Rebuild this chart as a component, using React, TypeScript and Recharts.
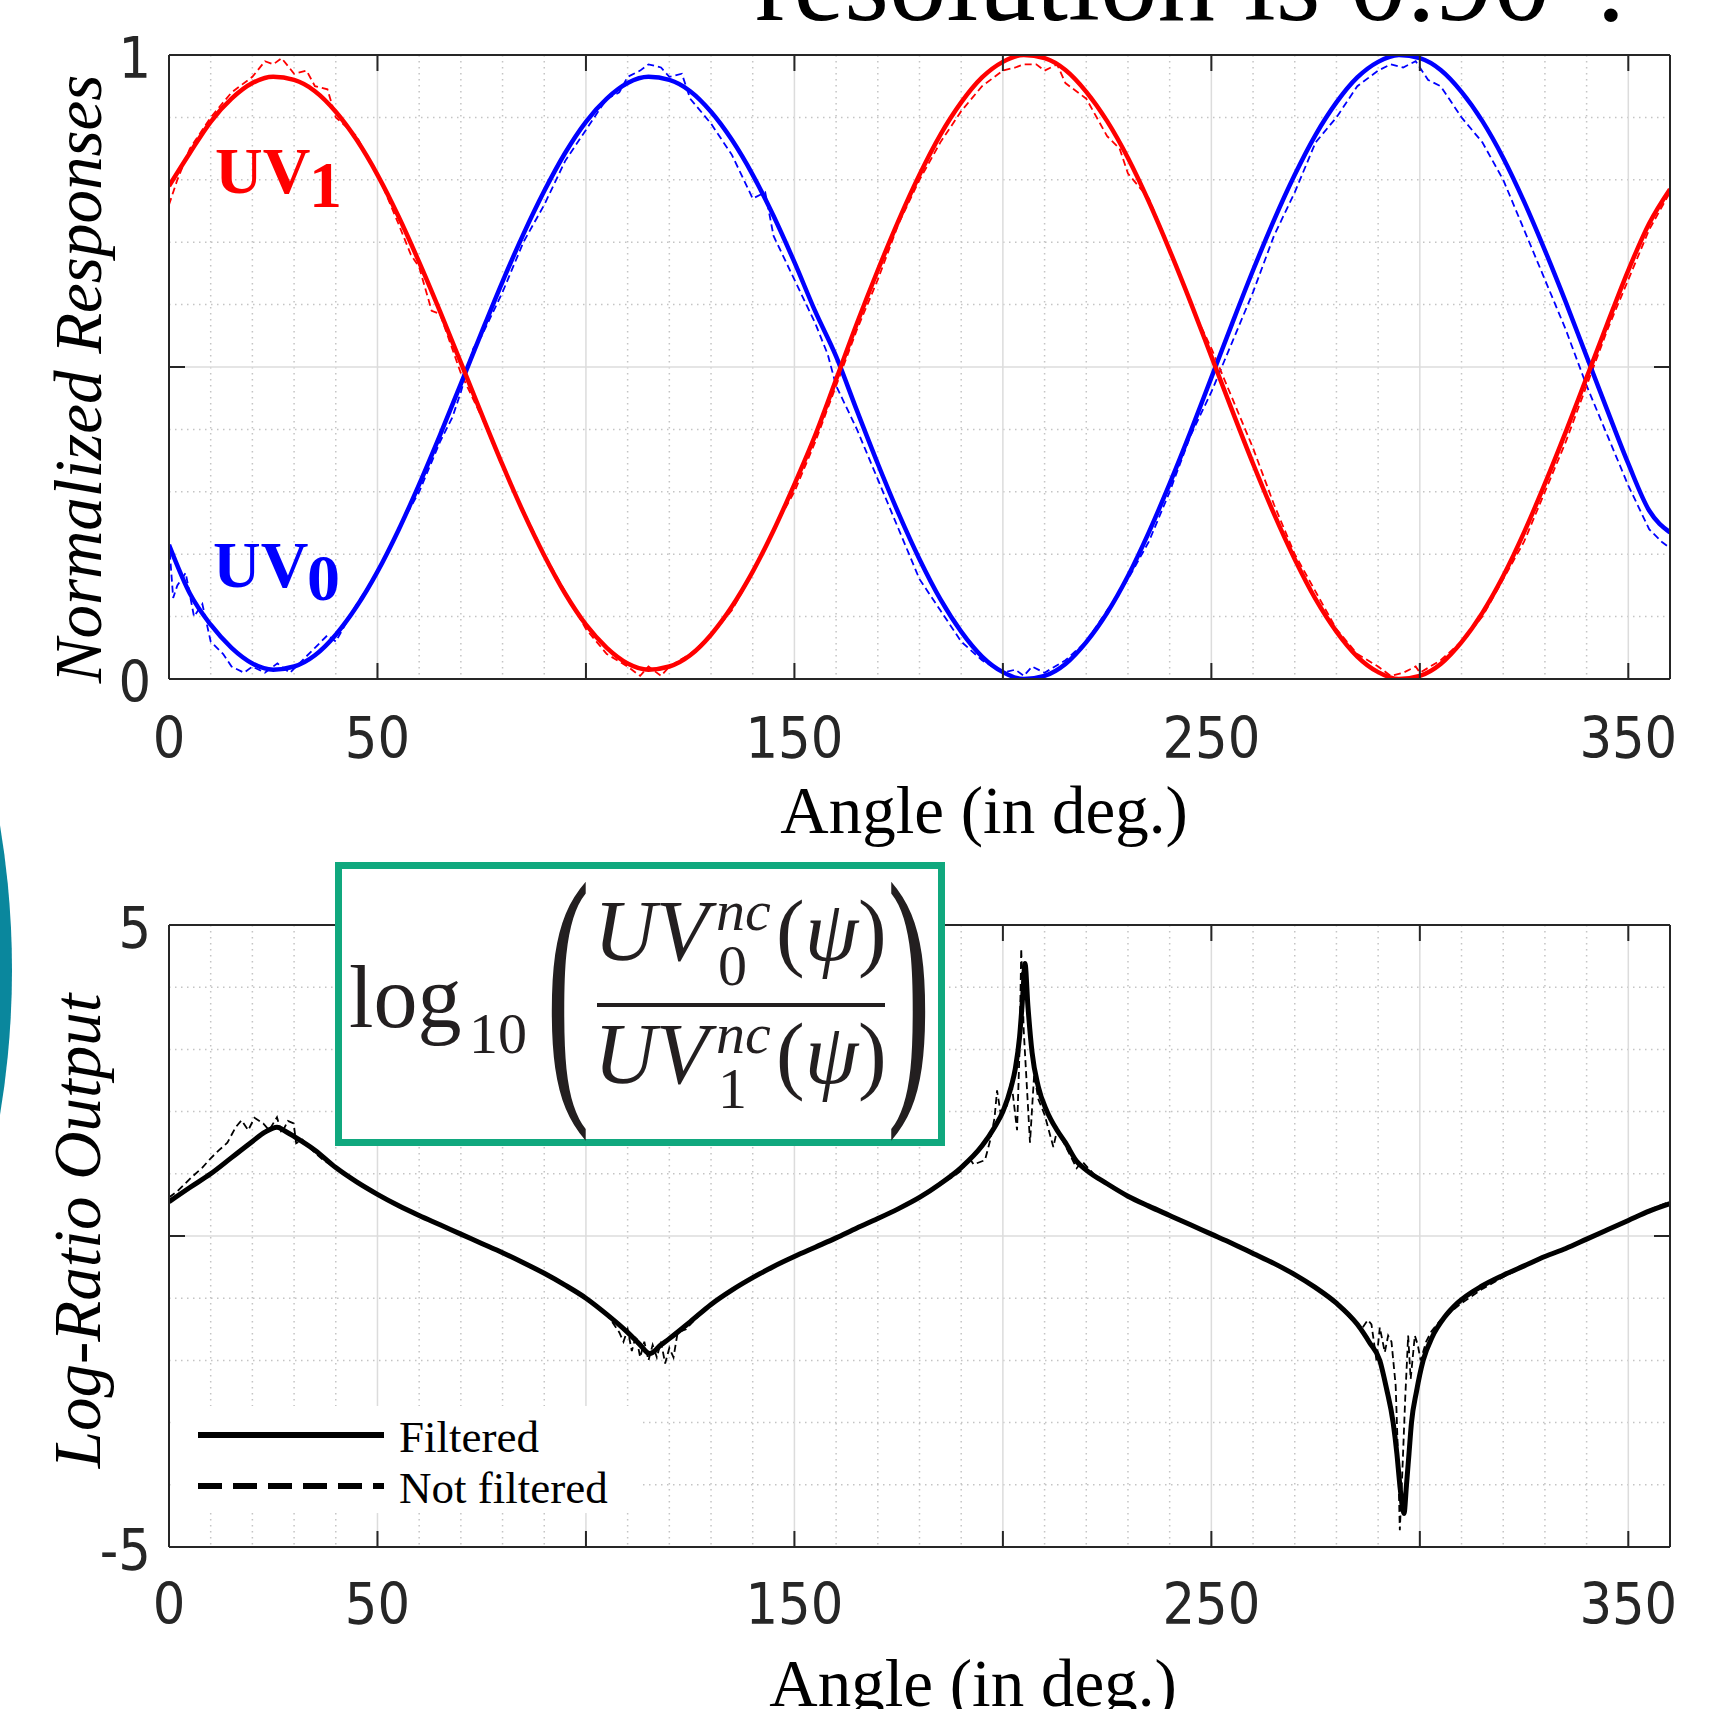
import { LineChart, Line, XAxis, YAxis, CartesianGrid } from "recharts";

const serif = "'Liberation Serif', 'Times New Roman', serif";
const sans = "'DejaVu Sans Condensed', 'DejaVu Sans', sans-serif";
const axisColor = "#262626";

// x axis (angle in degrees)
const majorX = [0, 50, 100, 150, 200, 250, 300, 350];
const innerTicksX = [50, 100, 150, 200, 250, 300, 350];
const labeledX = [0, 50, 150, 250, 350];
const minorX = [10, 20, 30, 40, 60, 70, 80, 90, 110, 120, 130, 140, 160, 170, 180, 190, 210, 220, 230, 240, 260, 270, 280, 290, 310, 320, 330, 340];

// top panel y axis
const topTicks = [0, 0.5, 1];
const topLabeled = [0, 1];
const topMinorY = [0.1, 0.2, 0.3, 0.4, 0.6, 0.7, 0.8, 0.9];

// bottom panel y axis
const bottomTicks = [-5, 0, 5];
const bottomLabeled = [-5, 5];
const bottomMinorY = [-4, -3, -2, -1, 1, 2, 3, 4];

// filtered responses, every 5 degrees
const angles = [0, 5, 10, 15, 20, 25, 30, 35, 40, 45, 50, 55, 60, 65, 70, 75, 80, 85, 90, 95, 100, 105, 110, 115, 120, 125, 130, 135, 140, 145, 150, 155, 160, 165, 170, 175, 180, 185, 190, 195, 200, 205, 210, 215, 220, 225, 230, 235, 240, 245, 250, 255, 260, 265, 270, 275, 280, 285, 290, 295, 300, 305, 310, 315, 320, 325, 330, 335, 340, 345, 350, 355, 360];
const uv1 = [0.79, 0.843, 0.893, 0.93, 0.955, 0.965, 0.96, 0.942, 0.909, 0.864, 0.808, 0.742, 0.668, 0.589, 0.507, 0.424, 0.343, 0.267, 0.198, 0.137, 0.087, 0.05, 0.025, 0.015, 0.02, 0.038, 0.071, 0.116, 0.172, 0.238, 0.312, 0.391, 0.48, 0.57, 0.655, 0.735, 0.808, 0.872, 0.924, 0.964, 0.989, 1.0, 0.995, 0.976, 0.941, 0.894, 0.835, 0.765, 0.687, 0.604, 0.517, 0.43, 0.345, 0.265, 0.192, 0.128, 0.076, 0.036, 0.011, 0.0, 0.005, 0.024, 0.059, 0.106, 0.165, 0.235, 0.313, 0.396, 0.483, 0.57, 0.655, 0.73, 0.785];
const uv0 = [0.215, 0.137, 0.087, 0.05, 0.025, 0.015, 0.02, 0.038, 0.071, 0.116, 0.172, 0.238, 0.312, 0.391, 0.473, 0.556, 0.637, 0.713, 0.782, 0.843, 0.893, 0.93, 0.955, 0.965, 0.96, 0.942, 0.909, 0.864, 0.808, 0.742, 0.668, 0.589, 0.517, 0.43, 0.345, 0.265, 0.192, 0.128, 0.076, 0.036, 0.011, 0.0, 0.005, 0.024, 0.059, 0.106, 0.165, 0.235, 0.313, 0.396, 0.483, 0.57, 0.655, 0.735, 0.808, 0.872, 0.924, 0.964, 0.989, 1.0, 0.995, 0.976, 0.941, 0.894, 0.835, 0.765, 0.687, 0.604, 0.517, 0.43, 0.345, 0.27, 0.235];

// raw (not filtered) responses, [angle, value]
const uv1Raw = [[0, 0.76], [2, 0.8], [5, 0.85], [10, 0.9], [15, 0.94], [20, 0.965], [23, 0.99], [25, 0.985], [27, 0.995], [30, 0.97], [33, 0.975], [35, 0.95], [38, 0.945], [40, 0.9], [45, 0.87], [48, 0.83], [50, 0.81], [55, 0.73], [58, 0.68], [60, 0.66], [63, 0.59], [65, 0.585], [70, 0.49], [75, 0.42], [80, 0.34], [85, 0.27], [90, 0.2], [95, 0.14], [100, 0.08], [105, 0.04], [110, 0.02], [113, 0.005], [115, 0.02], [118, 0.005], [120, 0.02], [125, 0.04], [130, 0.07], [135, 0.11], [140, 0.17], [145, 0.24], [150, 0.3], [155, 0.38], [160, 0.47], [165, 0.56], [170, 0.64], [175, 0.73], [180, 0.8], [185, 0.86], [190, 0.91], [195, 0.95], [200, 0.975], [203, 0.98], [205, 0.985], [208, 0.985], [210, 0.975], [213, 0.985], [215, 0.955], [220, 0.93], [225, 0.87], [228, 0.85], [230, 0.81], [235, 0.77], [240, 0.69], [245, 0.6], [250, 0.53], [255, 0.45], [260, 0.37], [265, 0.28], [270, 0.2], [275, 0.14], [280, 0.08], [285, 0.04], [290, 0.02], [293, 0.005], [296, 0.01], [299, 0.02], [300, 0.01], [305, 0.03], [310, 0.06], [315, 0.1], [320, 0.16], [325, 0.22], [330, 0.3], [335, 0.38], [340, 0.47], [345, 0.56], [350, 0.64], [355, 0.72], [360, 0.78]];
const uv0Raw = [[0, 0.22], [1, 0.13], [2, 0.15], [4, 0.17], [6, 0.1], [8, 0.12], [10, 0.06], [13, 0.04], [15, 0.02], [18, 0.01], [20, 0.02], [23, 0.01], [26, 0.025], [29, 0.01], [32, 0.03], [35, 0.05], [38, 0.07], [40, 0.06], [45, 0.12], [50, 0.17], [55, 0.24], [60, 0.3], [65, 0.38], [68, 0.42], [70, 0.46], [73, 0.53], [75, 0.55], [80, 0.62], [85, 0.7], [90, 0.76], [95, 0.83], [100, 0.88], [105, 0.93], [108, 0.94], [110, 0.965], [113, 0.975], [115, 0.985], [118, 0.98], [120, 0.965], [123, 0.97], [125, 0.93], [130, 0.89], [135, 0.84], [140, 0.77], [143, 0.78], [145, 0.71], [150, 0.64], [155, 0.57], [158, 0.52], [160, 0.47], [165, 0.4], [170, 0.32], [175, 0.24], [180, 0.16], [185, 0.11], [190, 0.06], [195, 0.03], [200, 0.01], [203, 0.015], [205, 0.005], [207, 0.02], [210, 0.01], [215, 0.03], [220, 0.06], [225, 0.11], [230, 0.16], [235, 0.22], [240, 0.3], [245, 0.39], [250, 0.46], [255, 0.54], [260, 0.62], [265, 0.71], [270, 0.78], [275, 0.86], [280, 0.9], [285, 0.95], [290, 0.975], [293, 0.985], [296, 0.98], [299, 0.99], [302, 0.96], [305, 0.95], [310, 0.9], [315, 0.86], [320, 0.8], [325, 0.72], [330, 0.64], [335, 0.56], [340, 0.47], [345, 0.39], [350, 0.31], [355, 0.24], [358, 0.22], [360, 0.21]];

// log-ratio output, [angle, value]
const ratioFiltered = [[0, 0.55], [5, 0.78], [10, 1.0], [15, 1.26], [20, 1.52], [23, 1.67], [25.9, 1.75], [28, 1.68], [30, 1.6], [35, 1.38], [40, 1.1], [45, 0.87], [50, 0.67], [55, 0.49], [60, 0.33], [65, 0.18], [70, 0.03], [75, -0.12], [80, -0.27], [85, -0.43], [90, -0.6], [95, -0.79], [100, -1.0], [105, -1.26], [110, -1.55], [113, -1.75], [115.3, -1.89], [118, -1.75], [120, -1.65], [125, -1.38], [130, -1.1], [135, -0.87], [140, -0.67], [145, -0.49], [150, -0.33], [155, -0.18], [160, -0.03], [165, 0.13], [170, 0.28], [175, 0.44], [180, 0.62], [185, 0.84], [190, 1.1], [195, 1.45], [198, 1.75], [200, 2.0], [202, 2.4], [203, 2.7], [204, 3.2], [204.8, 3.9], [205.3, 4.38], [206, 3.7], [207, 2.95], [208.5, 2.4], [210.6, 2.0], [213, 1.7], [215, 1.5], [217.7, 1.2], [220, 1.06], [225, 0.84], [230, 0.64], [235, 0.48], [240, 0.33], [245, 0.18], [250, 0.03], [255, -0.12], [260, -0.28], [265, -0.44], [270, -0.62], [275, -0.83], [280, -1.08], [285, -1.42], [288, -1.72], [290.4, -2.0], [292, -2.45], [293.6, -3.0], [294.5, -3.5], [295.2, -4.0], [296.2, -4.46], [296.8, -4.0], [297.4, -3.5], [298, -3.0], [299.2, -2.5], [300.8, -2.0], [303, -1.62], [306, -1.3], [309, -1.08], [315, -0.8], [320, -0.63], [325, -0.48], [330, -0.33], [335, -0.2], [340, -0.05], [345, 0.1], [350, 0.25], [355, 0.4], [360, 0.52]];
const ratioRaw = [[0, 0.62], [2, 0.72], [4, 0.85], [5.5, 0.95], [8, 1.1], [10, 1.25], [12, 1.38], [14, 1.5], [16, 1.75], [17.4, 1.86], [19, 1.7], [20.5, 1.9], [22.6, 1.81], [24, 1.7], [25.9, 1.91], [27, 1.65], [28.5, 1.85], [29.9, 1.81], [30.5, 1.49], [32, 1.55], [34, 1.4], [37, 1.22], [40, 1.1], [45, 0.87], [50, 0.67], [55, 0.5], [60, 0.33], [65, 0.18], [70, 0.03], [75, -0.12], [80, -0.27], [85, -0.43], [90, -0.6], [95, -0.79], [100, -1.0], [104, -1.2], [106, -1.35], [108, -1.55], [109, -1.7], [110, -1.5], [111, -1.85], [112, -1.6], [113, -1.95], [114, -1.7], [115, -2.0], [116, -1.75], [117, -1.95], [118, -1.7], [119, -2.05], [120, -1.8], [121, -1.95], [122, -1.55], [124, -1.5], [126, -1.35], [130, -1.1], [135, -0.87], [140, -0.67], [145, -0.49], [150, -0.33], [155, -0.18], [160, -0.03], [165, 0.12], [170, 0.28], [175, 0.44], [180, 0.62], [185, 0.84], [188, 0.95], [190, 1.05], [192, 1.25], [193, 1.15], [195.7, 1.22], [197, 1.55], [198, 1.9], [198.6, 2.34], [199.5, 1.95], [201, 2.1], [202, 2.5], [203.4, 1.7], [204, 3.0], [204.4, 4.62], [205, 3.3], [206.5, 1.5], [207.5, 2.6], [208.5, 2.2], [210, 1.95], [212.1, 1.43], [213, 1.7], [215, 1.45], [217.7, 1.09], [219, 1.2], [222, 0.98], [225, 0.85], [230, 0.64], [235, 0.48], [240, 0.33], [245, 0.18], [250, 0.03], [255, -0.12], [260, -0.28], [265, -0.44], [270, -0.62], [275, -0.83], [280, -1.08], [283, -1.3], [286, -1.5], [287.5, -1.35], [288.4, -1.42], [289.6, -2.0], [290.4, -1.47], [291.6, -1.87], [292.4, -1.6], [293.2, -1.7], [294.2, -2.4], [294.8, -3.6], [295.2, -4.73], [295.8, -3.8], [296.5, -2.6], [297.2, -1.6], [297.8, -2.3], [298.8, -1.6], [299.5, -1.75], [300.2, -2.0], [301.5, -1.7], [302.8, -1.53], [305, -1.35], [310, -1.08], [315, -0.85], [320, -0.66], [325, -0.49], [330, -0.33], [335, -0.19], [340, -0.05], [345, 0.1], [350, 0.26], [355, 0.42], [358, 0.5], [360, 0.55]];

const fromArrays = (xs: number[], ys: number[]) => xs.map((x, i) => ({ x, y: ys[i] }));
const fromPairs = (pairs: number[][]) => pairs.map(([x, y]) => ({ x, y }));

const tickStyle = { fill: axisColor, fontSize: 57, fontFamily: sans, fontStretch: "condensed" };
const boxLine = { stroke: axisColor, strokeWidth: 2 };
const noLabel = () => "";

// plot box: x 169..1670, top at 55 inside each panel
function Panel({ height, bottom, yDomain, yTicks, yLabeled, yMinor, xMargin, children }: any) {
  const mid = [yTicks[1]];
  return (
    <LineChart width={1717} height={height} margin={{ top: 55, right: 47, bottom: bottom - 60, left: 109 }}>
      {/* minor dotted grid, then major solid grid */}
      <CartesianGrid verticalValues={minorX} horizontalValues={yMinor} stroke="#c4c4c4" strokeWidth={1.5} strokeDasharray="1.5 4.5" />
      <CartesianGrid stroke="#dcdcdc" strokeWidth={1.5} />

      <XAxis dataKey="x" type="number" domain={[0, 360]} allowDataOverflow ticks={majorX} height={60}
        tickLine={false} tickSize={0} tickMargin={xMargin} axisLine={boxLine} tick={tickStyle}
        tickFormatter={(v: number) => (labeledX.includes(v) ? String(v) : "")} />
      {/* inward ticks (MATLAB box style) */}
      <XAxis xAxisId="bIn" dataKey="x" type="number" domain={[0, 360]} allowDataOverflow ticks={innerTicksX}
        orientation="bottom" mirror height={1} tickFormatter={noLabel} tickSize={16} axisLine={false} tickLine={boxLine} />
      <XAxis xAxisId="top" dataKey="x" type="number" domain={[0, 360]} allowDataOverflow ticks={innerTicksX}
        orientation="top" mirror height={1} tickFormatter={noLabel} tickSize={16} axisLine={boxLine} tickLine={boxLine} />

      <YAxis type="number" domain={yDomain} allowDataOverflow ticks={yTicks} width={60}
        tickLine={false} tickSize={0} tickMargin={18} axisLine={boxLine} tick={{ ...tickStyle, dy: 3 }}
        tickFormatter={(v: number) => (yLabeled.includes(v) ? String(v) : "")} />
      <YAxis yAxisId="lIn" type="number" domain={yDomain} allowDataOverflow ticks={mid}
        orientation="left" mirror width={1} tickFormatter={noLabel} tickSize={16} axisLine={false} tickLine={boxLine} />
      <YAxis yAxisId="right" type="number" domain={yDomain} allowDataOverflow ticks={mid}
        orientation="right" mirror width={1} tickFormatter={noLabel} tickSize={16} axisLine={boxLine} tickLine={boxLine} />

      {children}
    </LineChart>
  );
}

function Overlay() {
  return (
    <svg width={1717} height={1709} style={{ position: "absolute", left: 0, top: 0 }}>
      {/* slide decoration + clipped title */}
      <circle cx={-868} cy={970} r={880} fill="#0a879d" />
      <text x={755} y={20} fontFamily={serif} fontSize={115} fill="#000">resolution is 0.90°.</text>

      {/* axis titles */}
      <text x={984} y={833} textAnchor="middle" fontFamily={serif} fontSize={67}>Angle (in deg.)</text>
      <text x={973} y={1706} textAnchor="middle" fontFamily={serif} fontSize={67}>Angle (in deg.)</text>
      <text transform="translate(101,379) rotate(-90)" textAnchor="middle" fontFamily={serif} fontStyle="italic" fontSize={67}>Normalized Responses</text>
      <text transform="translate(100,1231) rotate(-90)" textAnchor="middle" fontFamily={serif} fontStyle="italic" fontSize={67}>Log-Ratio Output</text>

      {/* series labels */}
      <g fontFamily={serif} fontWeight="bold" fontSize={66}>
        <text x={215} y={193} fill="#ff0000">UV</text>
        <text x={309} y={207} fill="#ff0000">1</text>
        <text x={213} y={587} fill="#0000ff">UV</text>
        <text x={307} y={600} fill="#0000ff">0</text>
      </g>

      {/* formula box */}
      <rect x={338.5} y={865.5} width={603} height={277} fill="#fff" stroke="#10a87e" strokeWidth={7} />
      <g fontFamily={serif} fill="#231f20">
        <text x={349} y={1027} fontSize={88}>log</text>
        <text x={469} y={1053} fontSize={58}>10</text>
        <text transform="translate(546,1080) scale(1.1,2.38)" fontSize={120}>(</text>
        <text x={594} y={960} fontSize={86} fontStyle="italic">UV</text>
        <text x={716} y={930} fontSize={58} fontStyle="italic">nc</text>
        <text x={718} y={985} fontSize={58}>0</text>
        <text x={776} y={960} fontSize={86}>(<tspan fontStyle="italic">ψ</tspan>)</text>
        <line x1={597} x2={885} y1={1005} y2={1005} stroke="#231f20" strokeWidth={4} />
        <text x={594} y={1083} fontSize={86} fontStyle="italic">UV</text>
        <text x={716} y={1053} fontSize={58} fontStyle="italic">nc</text>
        <text x={718} y={1108} fontSize={58}>1</text>
        <text x={776} y={1083} fontSize={86}>(<tspan fontStyle="italic">ψ</tspan>)</text>
        <text transform="translate(887,1080) scale(1.1,2.38)" fontSize={120}>)</text>
      </g>

      {/* legend */}
      <rect x={175} y={1406} width={467} height={107} fill="#fff" />
      <line x1={198} x2={384} y1={1435} y2={1435} stroke="#000" strokeWidth={6} />
      <line x1={198} x2={384} y1={1486} y2={1486} stroke="#000" strokeWidth={6} strokeDasharray="24 11" />
      <text x={399} y={1452} fontFamily={serif} fontSize={45}>Filtered</text>
      <text x={399} y={1503} fontFamily={serif} fontSize={45}>Not filtered</text>
    </svg>
  );
}

export default function App() {
  const line = { dataKey: "y", dot: false, activeDot: false, isAnimationActive: false } as any;
  return (
    <div style={{ position: "absolute", left: 0, top: 0, width: 1717, height: 1709, background: "#fff", overflow: "hidden" }}>
      <div style={{ position: "absolute", left: 0, top: 0 }}>
        <Panel height={870} bottom={191} yDomain={[0, 1]} yTicks={topTicks} yLabeled={topLabeled} yMinor={topMinorY} xMargin={39}>
          <Line {...line} data={fromPairs(uv0Raw)} type="linear" stroke="#0000ff" strokeWidth={1.8} strokeDasharray="7 4" />
          <Line {...line} data={fromPairs(uv1Raw)} type="linear" stroke="#ff0000" strokeWidth={1.8} strokeDasharray="7 4" />
          <Line {...line} data={fromArrays(angles, uv0)} type="monotone" stroke="#0000ff" strokeWidth={4.5} />
          <Line {...line} data={fromArrays(angles, uv1)} type="monotone" stroke="#ff0000" strokeWidth={4.5} />
        </Panel>
      </div>
      <div style={{ position: "absolute", left: 0, top: 870 }}>
        <Panel height={839} bottom={162} yDomain={[-5, 5]} yTicks={bottomTicks} yLabeled={bottomLabeled} yMinor={bottomMinorY} xMargin={37}>
          <Line {...line} data={fromPairs(ratioRaw)} type="linear" stroke="#000" strokeWidth={1.8} strokeDasharray="7 4" />
          <Line {...line} data={fromPairs(ratioFiltered)} type="monotone" stroke="#000" strokeWidth={5} />
        </Panel>
      </div>
      <Overlay />
    </div>
  );
}
